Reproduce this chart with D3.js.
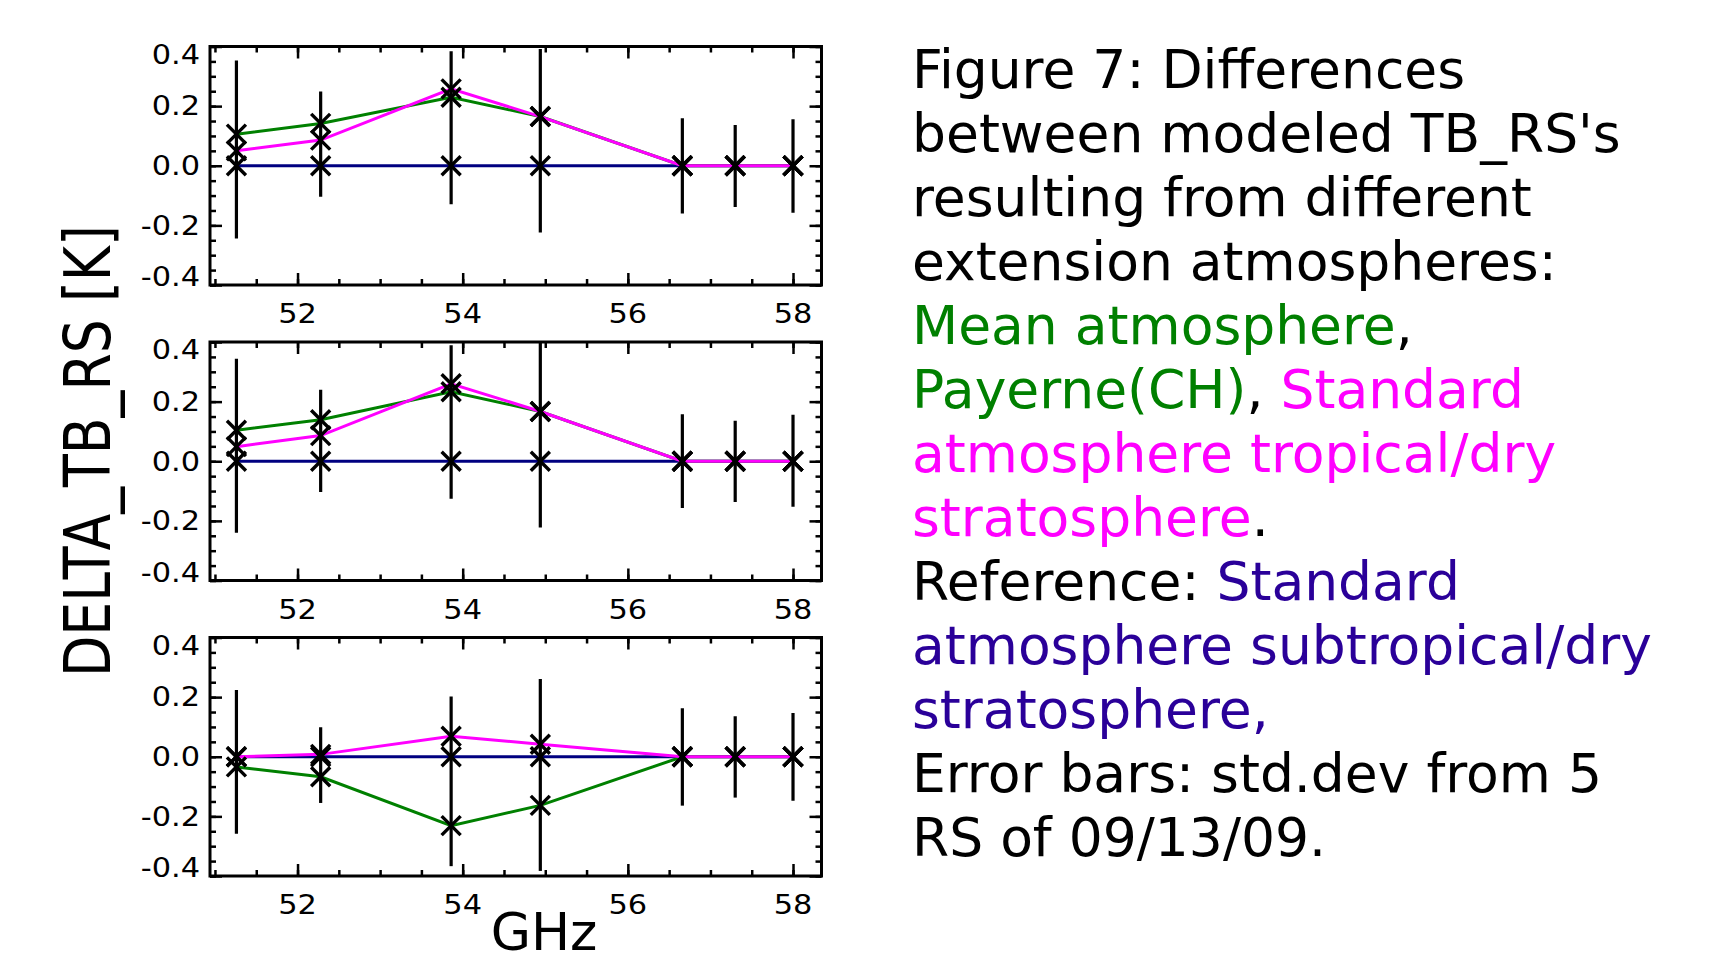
<!DOCTYPE html>
<html>
<head>
<meta charset="utf-8">
<script src="https://cdn.jsdelivr.net/npm/d3@7"></script>
<style>
html, body { margin: 0; padding: 0; background: #fff; }
svg { display: block; }
</style>
</head>
<body>
<svg id="fig" width="1724" height="961"></svg>
<script>
// channel frequencies [GHz]
var freqs = [51.26, 52.28, 53.86, 54.94, 56.66, 57.30, 58.00];
var xTicks = [52, 54, 56, 58];
var yTicks = [-0.4, -0.2, 0.0, 0.2, 0.4];

// top panel
var mean1 = [0.106, 0.142, 0.230, 0.165, 0, 0, 0];
var trop1 = [0.050, 0.086, 0.258, 0.165, 0, 0, 0];
var ref1 = [0, 0, 0, 0, 0, 0, 0];
var errHi1 = [0.353, 0.249, 0.384, 0.392, 0.159, 0.137, 0.156];
var errLo1 = [-0.244, -0.104, -0.129, -0.224, -0.160, -0.138, -0.158];

// middle panel
var mean2 = [0.104, 0.139, 0.233, 0.167, 0, 0, 0];
var trop2 = [0.049, 0.086, 0.260, 0.167, 0, 0, 0];
var ref2 = [0, 0, 0, 0, 0, 0, 0];
var errHi2 = [0.344, 0.240, 0.389, 0.410, 0.158, 0.136, 0.156];
var errLo2 = [-0.240, -0.103, -0.126, -0.222, -0.157, -0.137, -0.153];

// bottom panel
var mean3 = [-0.034, -0.067, -0.231, -0.163, 0, 0, 0];
var trop3 = [0, 0.008, 0.069, 0.042, 0, 0, 0];
var ref3 = [0, 0, 0, 0, 0, 0, 0];
var errHi3 = [0.224, 0.099, 0.202, 0.261, 0.163, 0.136, 0.147];
var errLo3 = [-0.258, -0.155, -0.367, -0.383, -0.164, -0.137, -0.148];

var caption = [
	[["Figure 7: Differences", "txt"]],
	[["between modeled TB_RS's", "txt"]],
	[["resulting from different", "txt"]],
	[["extension atmospheres:", "txt"]],
	[["Mean atmosphere", "mean"], [",", "txt"]],
	[["Payerne(CH)", "mean"], [", ", "txt"], ["Standard", "trop"]],
	[["atmosphere tropical/dry", "trop"]],
	[["stratosphere", "trop"], [".", "txt"]],
	[["Reference: ", "txt"], ["Standard", "refText"]],
	[["atmosphere subtropical/dry", "refText"]],
	[["stratosphere,", "refText"]],
	[["Error bars: std.dev from 5", "txt"]],
	[["RS of 09/13/09.", "txt"]]
];

var colors = {txt: "#000", mean: "#008000", trop: "#ff00ff", ref: "#000080", refText: "#2a0099"};

var panels = [
	{mean: mean1, trop: trop1, ref: ref1, hi: errHi1, lo: errLo1},
	{mean: mean2, trop: trop2, ref: ref2, hi: errHi2, lo: errLo2},
	{mean: mean3, trop: trop3, ref: ref3, hi: errHi3, lo: errLo3}
];

var svg = d3.select("#fig");
var plot = {left: 210, width: 611.5, top: 46.5, height: 238.5, step: 295.5};
var font = "'DejaVu Sans', sans-serif";

var x = d3.scaleLinear().domain([50.94, 58.345]).range([plot.left, plot.left + plot.width]);
var xMinor = d3.range(51, 58.3, 0.5);
var yMinor = d3.range(-0.4, 0.401, 0.05);
var fmt = function(d) { return d3.format(".1f")(d).replace("\u2212", "-"); };

function draw_panel(p, i) {
	var top = plot.top + i * plot.step;
	var bottom = top + plot.height;
	var y = d3.scaleLinear().domain([-0.4, 0.4]).range([bottom, top]);
	var g = svg.append("g").attr("class", "panel");

	g.append("clipPath").attr("id", "clip" + i)
		.append("rect")
		.attr("x", plot.left).attr("y", top)
		.attr("width", plot.width).attr("height", plot.height);

	// ticks on all four sides, pointing inward
	function ticks(axis, vals, size, tr) {
		var a = g.append("g").attr("transform", tr)
			.call(axis.tickValues(vals).tickSize(-size).tickFormat(""));
		a.select(".domain").remove();
		a.selectAll("line").attr("stroke", "#000").attr("stroke-width", 2.5);
	}
	ticks(d3.axisLeft(y), yMinor, 6, "translate(" + plot.left + ",0)");
	ticks(d3.axisLeft(y), yTicks, 12, "translate(" + plot.left + ",0)");
	ticks(d3.axisRight(y), yMinor, 6, "translate(" + (plot.left + plot.width) + ",0)");
	ticks(d3.axisRight(y), yTicks, 12, "translate(" + (plot.left + plot.width) + ",0)");
	ticks(d3.axisBottom(x), xMinor, 6, "translate(0," + bottom + ")");
	ticks(d3.axisBottom(x), xTicks, 12, "translate(0," + bottom + ")");
	ticks(d3.axisTop(x), xMinor, 6, "translate(0," + top + ")");
	ticks(d3.axisTop(x), xTicks, 12, "translate(0," + top + ")");

	g.append("rect")
		.attr("x", plot.left).attr("y", top)
		.attr("width", plot.width).attr("height", plot.height)
		.attr("fill", "none").attr("stroke", "#000").attr("stroke-width", 3);

	// tick labels
	g.selectAll(".ylab").data(yTicks).enter().append("text")
		.attr("class", "ylab")
		.attr("transform", function(d) {
			var yy = Math.max(top + 8, Math.min(bottom - 8, y(d)));
			return "translate(200," + yy + ") scale(1.17,1)";
		})
		.attr("text-anchor", "end").attr("dy", "0.36em")
		.style("font-family", font).style("font-size", "26px")
		.text(fmt);

	g.selectAll(".xlab").data(xTicks).enter().append("text")
		.attr("class", "xlab")
		.attr("transform", function(d) { return "translate(" + x(d) + "," + (bottom + 38) + ") scale(1.17,1)"; })
		.attr("text-anchor", "middle")
		.style("font-family", font).style("font-size", "26px")
		.text(function(d) { return d; });

	var inner = g.append("g").attr("clip-path", "url(#clip" + i + ")");
	var series = [
		{key: "ref", vals: p.ref},
		{key: "mean", vals: p.mean},
		{key: "trop", vals: p.trop}
	];
	var line = function(vals) {
		return d3.line()
			.x(function(d, j) { return x(freqs[j]); })
			.y(function(d) { return y(d); })(vals);
	};

	inner.selectAll(".series").data(series).enter().append("path")
		.attr("class", "series")
		.attr("d", function(s) { return line(s.vals); })
		.attr("fill", "none")
		.attr("stroke", function(s) { return colors[s.key]; })
		.attr("stroke-width", 3);

	// error bars
	inner.selectAll(".err").data(freqs).enter().append("line")
		.attr("class", "err")
		.attr("x1", function(d) { return x(d); })
		.attr("x2", function(d) { return x(d); })
		.attr("y1", function(d, j) { return y(p.hi[j]); })
		.attr("y2", function(d, j) { return y(p.lo[j]); })
		.attr("stroke", "#000").attr("stroke-width", 3.2);

	// X symbols on every point
	series.forEach(function(s) {
		inner.selectAll(".sym-" + s.key).data(s.vals).enter().append("path")
			.attr("class", "sym-" + s.key)
			.attr("transform", function(d, j) { return "translate(" + x(freqs[j]) + "," + y(d) + ")"; })
			.attr("d", "M-9.5,-9.5L9.5,9.5M-9.5,9.5L9.5,-9.5")
			.attr("stroke", "#000").attr("stroke-width", 3.4).attr("fill", "none");
	});
}

panels.forEach(draw_panel);

// axis titles
svg.append("text")
	.attr("transform", "translate(110,451) rotate(-90)")
	.attr("text-anchor", "middle")
	.attr("textLength", 452).attr("lengthAdjust", "spacingAndGlyphs")
	.style("font-family", font).style("font-size", "64px")
	.text("DELTA_TB_RS [K]");

svg.append("text")
	.attr("x", 544).attr("y", 950)
	.attr("text-anchor", "middle")
	.style("font-family", font).style("font-size", "52px")
	.text("GHz");

// caption on the right
var cap = svg.append("text")
	.style("font-family", font).style("font-size", "53.5px");
caption.forEach(function(row, k) {
	row.forEach(function(part, m) {
		var t = cap.append("tspan")
			.attr("fill", colors[part[1]])
			.style("white-space", "pre")
			.text(part[0]);
		if (m == 0) t.attr("x", 912).attr("y", 88 + k * 64);
	});
});
</script>
</body>
</html>
